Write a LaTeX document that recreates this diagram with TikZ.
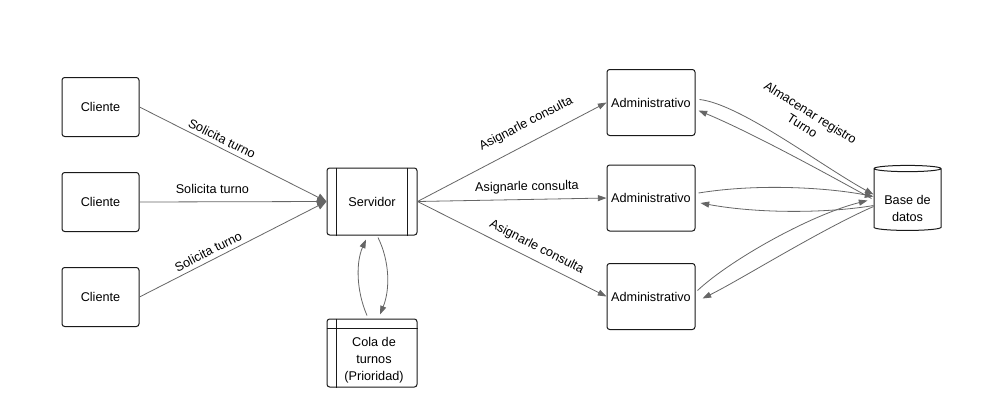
\documentclass[tikz,border=0pt]{standalone}
\usepackage{fontspec}
\setmainfont{Liberation Sans}
\usepackage{tikz}
\usetikzlibrary{arrows.meta,shapes.geometric,calc}
\definecolor{gris}{HTML}{666666}
\definecolor{borde}{HTML}{1A1A1A}

\begin{document}
\begin{tikzpicture}[x=0.75pt,y=-0.75pt,
  caja/.style={draw=borde,line width=0.75pt,rounded corners=2pt,minimum width=57.75pt,minimum height=44.25pt,inner sep=1pt,font=\fontsize{9.5}{12}\selectfont},
  proceso/.style={caja,minimum width=67.5pt,minimum height=50.25pt},
  adm/.style={caja,minimum width=66pt,minimum height=49.5pt},
  flecha/.style={draw=gris,line width=0.6pt,-{Triangle[length=6.5pt,width=4.5pt]}},
  etiqueta/.style={font=\fontsize{9.5}{11.5}\selectfont,sloped,inner sep=1pt,align=center}]
\useasboundingbox[fill=white] (0,0) rectangle (998,418);
\node[caja] (c1) at (100.5,107) {Cliente};
\node[caja] (c2) at (100.5,202) {Cliente};
\node[caja] (c3) at (100.5,297) {Cliente};
\node[proceso] (srv) at (372,201.5) {Servidor};
\draw[borde,line width=0.75pt] ([xshift=7.5pt]srv.north west) -- ([xshift=7.5pt]srv.south west)
  ([xshift=-7.5pt]srv.north east) -- ([xshift=-7.5pt]srv.south east);
\node[proceso,minimum height=51pt] (cola) at (372,353) {};
\node[etiqueta,sloped=false,font=\fontsize{9.5}{12.75}\selectfont] (colatexto) at (374,360) {Cola de\\turnos\\(Prioridad)};
\draw[borde,line width=0.75pt] ([xshift=7.5pt]cola.north west) -- ([xshift=7.5pt]cola.south west)
  ([yshift=-7.5pt]cola.north west) -- ([yshift=-7.5pt]cola.north east);
\node[adm] (a1) at (651,102.5) {Administrativo};
\node[adm] (a2) at (651,198) {Administrativo};
\node[adm] (a3) at (651,296.5) {Administrativo};
\node[cylinder,shape border rotate=90,draw=borde,line width=0.75pt,aspect=0.7,minimum width=50.25pt,minimum height=48.75pt] (bd) at (907.5,200.5) {};
\node[etiqueta,sloped=false,font=\fontsize{9.5}{12.75}\selectfont] (bdtexto) at (907.5,208.5) {Base de\\datos};
\draw[flecha,-{Triangle[length=7pt,width=6pt]}] (c1.east) -- node[etiqueta,pos=0.42,above=2pt] {Solicita turno} (srv.west);
\draw[flecha,-{Triangle[length=7pt,width=6pt]}] (c2.east) -- node[etiqueta,pos=0.39,above=4.8pt] {Solicita turno} (srv.west);
\draw[flecha,-{Triangle[length=7pt,width=6pt]}] (c3.east) -- node[etiqueta,pos=0.39,above=2.2pt] {Solicita turno} (srv.west);
\draw[flecha] (srv.east) -- node[etiqueta,pos=0.62,above=8pt] {Asignarle consulta} (a1.west);
\draw[flecha] (srv.east) -- node[etiqueta,pos=0.58,above=3.4pt] {Asignarle consulta} (a2.west);
\draw[flecha] (srv.east) -- node[etiqueta,pos=0.6,above=3.8pt] {Asignarle consulta} (a3.west);
\draw[flecha] ($(cola.north)+(-5,-3)$) .. controls (356,290) and (356,262) .. ($(srv.south)+(-6,4)$);
\draw[flecha] ($(srv.south)+(6,2)$) .. controls (390,262) and (390,290) .. ($(cola.north)+(8,-4)$);
\draw[flecha] ($(a1.east)+(4,-3)$) .. controls (740,104) and (820,165) .. node[etiqueta,pos=0.55,above=11pt] {Almacenar registro\\Turno} ($(bd.west)+(0,-6)$);
\draw[flecha] ($(bd.west)+(-2,-2)$) .. controls (820,170) and (750,132) .. ($(a1.east)+(3,8)$);
\draw[flecha] ($(a2.east)+(3,-5)$) .. controls (760,183) and (830,188) .. ($(bd.west)+(0,-4)$);
\draw[flecha] ($(bd.west)+(0,5)$) .. controls (830,213) and (760,214) .. ($(a2.east)+(5,5)$);
\draw[flecha] ($(a3.east)+(2,-6)$) .. controls (730,260) and (810,215) .. ($(bd.west)+(-6,0)$);
\draw[flecha] ($(bd.west)+(0,6)$) .. controls (820,230) and (740,280) .. ($(a3.east)+(7,2)$);
\end{tikzpicture}
\end{document}
